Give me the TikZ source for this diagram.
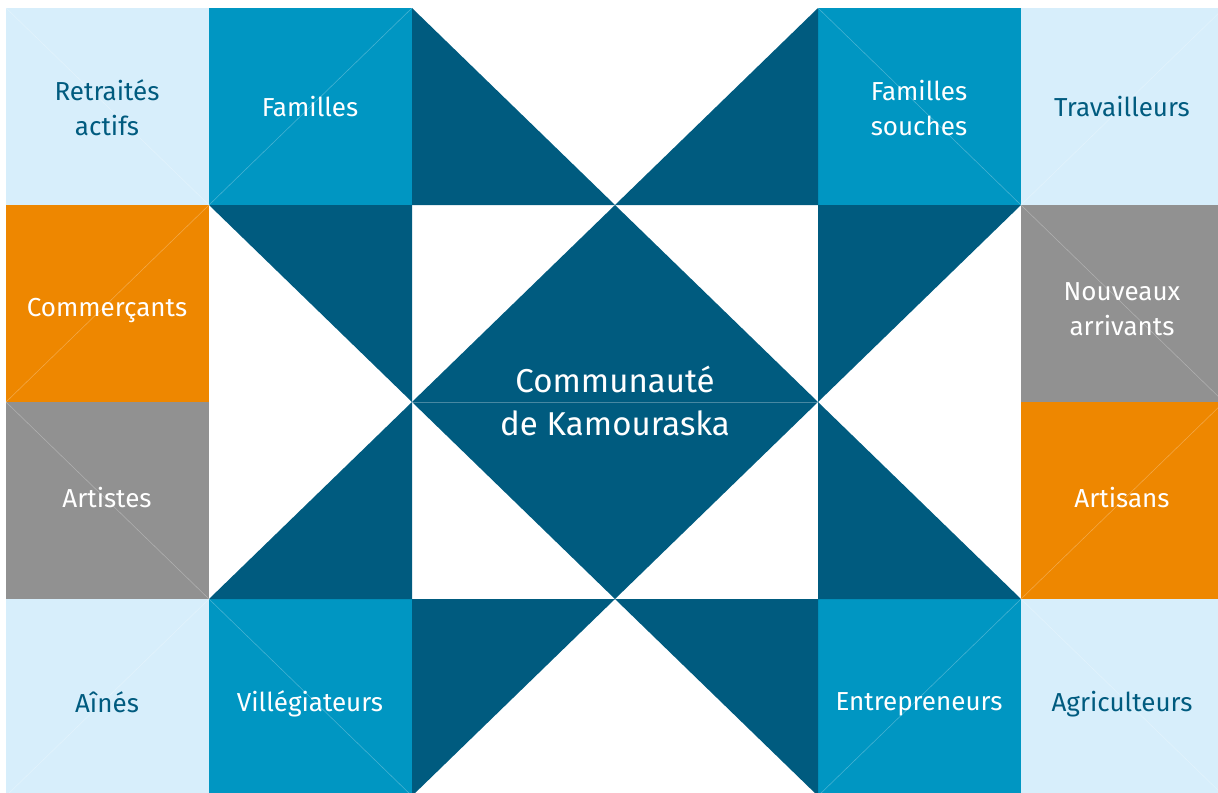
\documentclass[tikz,border=0pt]{standalone}
\usepackage{fontspec}
\setmainfont{Fira Sans}
\usepackage{tikz}
\definecolor{kdark}{HTML}{005B7F}
\definecolor{kmid}{HTML}{0096C2}
\definecolor{klight}{HTML}{D7EEFB}
\definecolor{korange}{HTML}{EE8700}
\definecolor{kgray}{HTML}{919191}

\begin{document}
\begin{tikzpicture}[x=0.025cm,y=-0.025cm,
    lbl/.style={align=center,font=\fontsize{18.5}{25}\selectfont,inner sep=0pt},
    onlight/.style={lbl,text=kdark},
    ondark/.style={lbl,text=white},
    seam/.style={white,opacity=0.28,line width=0.4pt}]
  \useasboundingbox (0,0) rectangle (1218,792);
  \begin{scope}
  \clip (0,0) rectangle (1218,792);
  % ---- coloured tiles ----
  \fill[klight]  (6,8) rectangle (209,205);
  \fill[kmid]    (209,8) rectangle (412,205);
  \fill[kmid]    (818,8) rectangle (1021,205);
  \fill[klight]  (1021,8) rectangle (1224,205);
  \fill[korange] (6,205) rectangle (209,402);
  \fill[kgray]   (1021,205) rectangle (1224,402);
  \fill[kgray]   (6,402) rectangle (209,599);
  \fill[korange] (1021,402) rectangle (1224,599);
  \fill[klight]  (6,599) rectangle (209,796);
  \fill[kmid]    (209,599) rectangle (412,796);
  \fill[kmid]    (818,599) rectangle (1021,796);
  \fill[klight]  (1021,599) rectangle (1224,796);
  % ---- dark star ----
  \fill[kdark] (615,205) -- (818,402) -- (615,599) -- (412,402) -- cycle;
  \fill[kdark] (412,8) -- (615,205) -- (412,205) -- cycle;
  \fill[kdark] (818,8) -- (818,205) -- (615,205) -- cycle;
  \fill[kdark] (209,205) -- (412,205) -- (412,402) -- cycle;
  \fill[kdark] (818,205) -- (1021,205) -- (818,402) -- cycle;
  \fill[kdark] (412,402) -- (412,599) -- (209,599) -- cycle;
  \fill[kdark] (818,402) -- (1021,599) -- (818,599) -- cycle;
  \fill[kdark] (412,599) -- (615,599) -- (412,796) -- cycle;
  \fill[kdark] (615,599) -- (818,599) -- (818,796) -- cycle;
  % ---- faint seams ----
  \draw[seam] (6,8) -- (209,205);
  \draw[seam] (209,205) -- (412,8);
  \draw[seam] (818,8) -- (1021,205);
  \draw[seam] (1021,205) -- (1224,8);
  \draw[seam] (6,402) -- (209,205);
  \draw[seam] (1021,205) -- (1224,402);
  \draw[seam] (6,402) -- (209,599);
  \draw[seam] (1021,599) -- (1224,402);
  \draw[seam] (6,796) -- (209,599);
  \draw[seam] (209,599) -- (412,796);
  \draw[seam] (818,796) -- (1021,599);
  \draw[seam] (1021,599) -- (1224,796);
  \draw[seam] (412,402) -- (818,402);
  \end{scope}
  % ---- labels ----
  \node[onlight] (retraites) at (107,108) {Retraités\\actifs};
  \node[ondark]  (familles) at (310,107) {Familles};
  \node[ondark]  (souches) at (919,108) {Familles\\souches};
  \node[onlight] (travailleurs) at (1122,107) {Travailleurs};
  \node[ondark]  (commercants) at (107,311) {Commerçants};
  \node[ondark]  (nouveaux) at (1122,309) {Nouveaux\\arrivants};
  \node[ondark,font=\fontsize{23.5}{31}\selectfont] (communaute) at (615,401)
        {Communauté\\de Kamouraska};
  \node[ondark]  (artistes) at (107,497) {Artistes};
  \node[ondark]  (artisans) at (1122,497) {Artisans};
  \node[onlight] (aines) at (107,702) {Aînés};
  \node[ondark]  (villegiateurs) at (310,704) {Villégiateurs};
  \node[ondark]  (entrepreneurs) at (919,704) {Entrepreneurs};
  \node[onlight] (agriculteurs) at (1122,704) {Agriculteurs};
\end{tikzpicture}
\end{document}
